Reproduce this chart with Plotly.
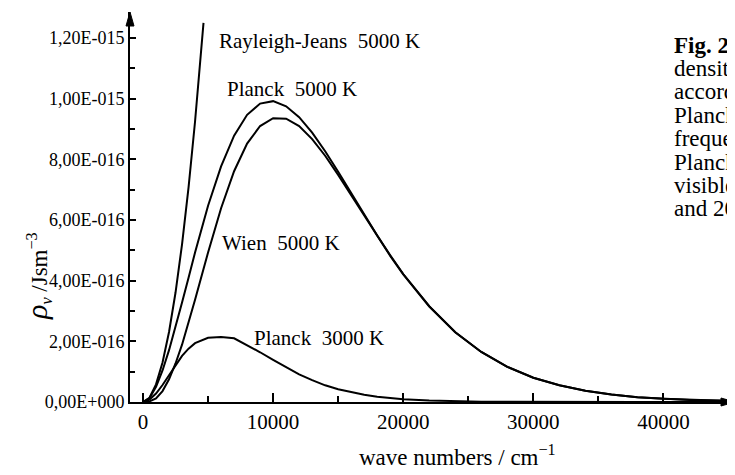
import plotly.graph_objects as go

# ---------------- data (energy density in units of 1E-16 J s m^-3) ----------------
wn = [0, 500, 1000, 1500, 2000, 2500, 3000, 3500, 4000, 5000, 6000, 7000, 8000, 9000,
      10000, 11000, 12000, 13000, 14000, 15000, 16000, 17000, 18000, 19000, 20000,
      22000, 24000, 26000, 28000, 30000, 32000, 34000, 36000, 38000, 40000, 42000,
      44000, 45500]
planck_5000 = [0, 0.13, 0.50, 1.04, 1.71, 2.47, 3.28, 4.10, 4.93, 6.47, 7.77, 8.78, 9.47,
               9.84, 9.92, 9.75, 9.39, 8.88, 8.27, 7.59, 6.89, 6.18, 5.49, 4.84, 4.22,
               3.16, 2.30, 1.65, 1.16, 0.80, 0.55, 0.37, 0.25, 0.16, 0.11, 0.07, 0.05, 0.03]
wien_5000 = [0, 0.02, 0.12, 0.36, 0.75, 1.27, 1.89, 2.61, 3.37, 4.93, 6.39, 7.61, 8.52,
             9.10, 9.36, 9.34, 9.10, 8.67, 8.12, 7.49, 6.82, 6.14, 5.46, 4.82, 4.21,
             3.15, 2.30, 1.65, 1.16, 0.80, 0.55, 0.37, 0.25, 0.16, 0.11, 0.07, 0.05, 0.03]
planck_3000 = [0, 0.08, 0.28, 0.56, 0.88, 1.20, 1.52, 1.76, 1.94, 2.12, 2.14, 2.10, 1.88,
               1.64, 1.39, 1.14, 0.91, 0.72, 0.55, 0.42, 0.32, 0.24, 0.17, 0.13, 0.09,
               0.05, 0.02, 0.01, 0.005, 0, 0, 0, 0, 0, 0, 0, 0, 0]
wn_rj = [0, 500, 1000, 1500, 2000, 2500, 3000, 3500, 4000, 4300, 4650]
rayleigh_jeans_5000 = [0, 0.14, 0.58, 1.30, 2.31, 3.61, 5.20, 7.08, 9.25, 10.7, 12.5]

x_tickvals = [0, 10000, 20000, 30000, 40000]
x_ticktext = ["0", "10000", "20000", "30000", "40000"]
x_minor = [5000, 15000, 25000, 35000, 45000]
y_tickvals = [0, 2, 4, 6, 8, 10, 12]
y_ticktext = ["0,00E+000", "2,00E-016", "4,00E-016", "6,00E-016", "8,00E-016",
              "1,00E-015", "1,20E-015"]
y_minor = [1, 3, 5, 7, 9, 11]

curve_labels = ["Rayleigh-Jeans  5000 K", "Planck  5000 K", "Wien  5000 K", "Planck  3000 K"]
caption_lines = ["<b>Fig. 2</b>", "densit", "accord", "Planck", "freque", "Planck",
                 "visible", "and 20"]

FONT = "Liberation Serif, Times New Roman, serif"
OFF = 8                      # default page margin of the html body
W, H = 735 - OFF, 475 - OFF
ML, MR, MT, MB = 130 - OFF, 0, 12 - OFF, 73
PW, PH = W - ML - MR, H - MT - MB


def px(xs):
    """screen x pixel -> paper x"""
    return (xs - OFF - ML) / PW


def py(ys):
    """screen y pixel -> paper y"""
    return (H - MB - (ys - OFF)) / PH


fig = go.Figure()
line = dict(color="black", width=2)
fig.add_trace(go.Scatter(x=wn_rj, y=rayleigh_jeans_5000, mode="lines", line=line))
fig.add_trace(go.Scatter(x=wn, y=planck_5000, mode="lines", line=line))
fig.add_trace(go.Scatter(x=wn, y=wien_5000, mode="lines", line=line))
fig.add_trace(go.Scatter(x=wn, y=planck_3000, mode="lines", line=line))

axis_common = dict(showline=True, linecolor="black", linewidth=2, ticks="inside",
                   tickcolor="black", tickwidth=2, showgrid=False, zeroline=False,
                   tickfont=dict(family=FONT, color="black"))

fig.update_xaxes(range=[-1000, 45500], tickvals=x_tickvals, ticktext=x_ticktext,
                 ticklen=9, tickfont_size=21,
                 minor=dict(tickvals=x_minor, ticks="inside", ticklen=6, tickwidth=2,
                            tickcolor="black", showgrid=False),
                 **axis_common)
fig.update_yaxes(range=[0, 12.86], tickvals=y_tickvals, ticktext=y_ticktext,
                 ticklen=6, tickfont_size=18,
                 minor=dict(tickvals=y_minor, ticks="inside", ticklen=5, tickwidth=2,
                            tickcolor="black", showgrid=False),
                 **axis_common)

ann = []
# curve labels (left-anchored, pixel positions)
label_pos = [(217, 41), (225, 89), (220, 243), (252, 338)]
for txt, (xs, ys) in zip(curve_labels, label_pos):
    ann.append(dict(text=txt, xref="paper", yref="paper", x=px(xs), y=py(ys),
                    xanchor="left", yanchor="middle", showarrow=False,
                    font=dict(family=FONT, size=21, color="black")))

# caption (cut at the right border as in the reference)
for i, txt in enumerate(caption_lines):
    ann.append(dict(text=txt, xref="paper", yref="paper", x=px(672), y=py(45 + 23.4 * i),
                    xanchor="left", yanchor="middle", showarrow=False,
                    font=dict(family=FONT, size=23, color="black")))

# axis titles
ann.append(dict(text="wave numbers / cm<sup>\u22121</sup>", xref="paper", yref="paper",
                x=px(458), y=py(455), xanchor="center", yanchor="middle", showarrow=False,
                font=dict(family=FONT, size=23, color="black")))
ann.append(dict(text="<span style='font-size:30px'><i>\u03c1</i></span><sub><i>\u03bd</i></sub> /Jsm<sup>\u22123</sup>",
                xref="paper", yref="paper", x=px(37), y=py(276), textangle=-90,
                xanchor="center", yanchor="middle", showarrow=False,
                font=dict(family=FONT, size=23, color="black")))

shapes = [
    # arrow heads at the ends of the axes
    dict(type="path", xref="paper", yref="paper", xsizemode="pixel", ysizemode="pixel",
         xanchor=0, yanchor=1, path="M -4,-14 L 0,0 L 4,-14 Z",
         fillcolor="black", line=dict(color="black", width=1)),
    dict(type="path", xref="paper", yref="paper", xsizemode="pixel", ysizemode="pixel",
         xanchor=1, yanchor=0, path="M -14,-4 L 0,0 L -14,4 Z",
         fillcolor="black", line=dict(color="black", width=1)),
]

fig.update_layout(width=W, height=H, margin=dict(l=ML, r=MR, t=MT, b=MB),
                  plot_bgcolor="white", paper_bgcolor="white", showlegend=False,
                  annotations=ann, shapes=shapes)

fig.write_html("out.html")
